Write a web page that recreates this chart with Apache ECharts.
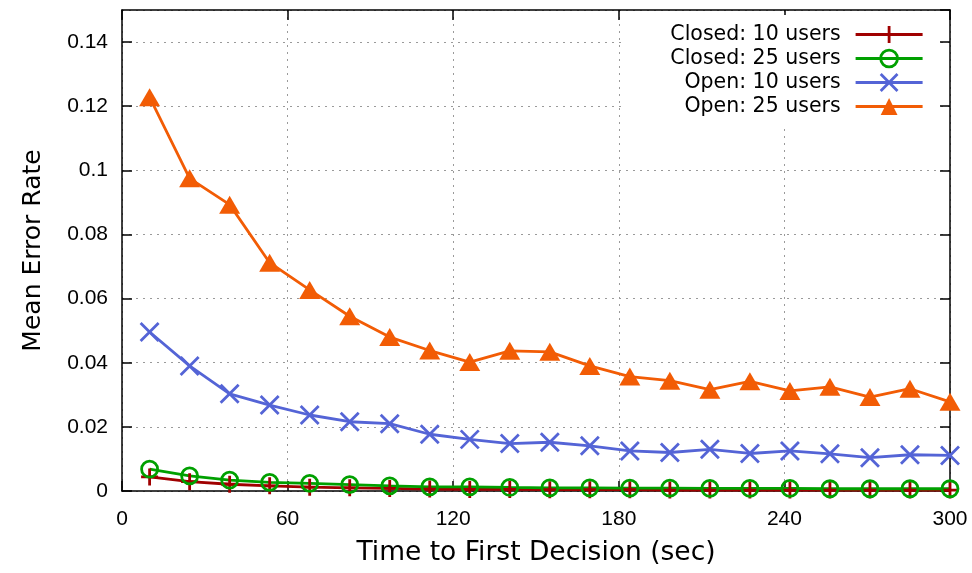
<!DOCTYPE html>
<html>
<head>
<meta charset="utf-8">
<script src="https://cdn.jsdelivr.net/npm/echarts@6/dist/echarts.min.js"></script>
<style>
  html, body { margin: 0; padding: 0; background: #fff; }
  #chart { width: 972px; height: 573px; }
</style>
</head>
<body>
<div id="chart"></div>
<script>
// Time to first decision (sec)
const times = [10, 24.5, 39, 53.5, 68, 82.5, 97, 111.5, 126, 140.5, 155, 169.5, 184, 198.5, 213, 227.5, 242, 256.5, 271, 285.5, 300];

// Mean error rate per scenario
const closed10 = [0.0044, 0.0029, 0.0021, 0.0016, 0.0012, 0.0010, 0.0008, 0.0006, 0.0005, 0.0005, 0.0004, 0.0004, 0.0004, 0.0003, 0.0003, 0.0003, 0.0003, 0.0003, 0.0003, 0.0003, 0.0003];
const closed25 = [0.0068, 0.0047, 0.0034, 0.0027, 0.0024, 0.0020, 0.0016, 0.0013, 0.0013, 0.0011, 0.0010, 0.0010, 0.0009, 0.0009, 0.0008, 0.0008, 0.0008, 0.0007, 0.0007, 0.0007, 0.0007];
const open10   = [0.0496, 0.0390, 0.0303, 0.0268, 0.0237, 0.0216, 0.0210, 0.0177, 0.0161, 0.0148, 0.0152, 0.0141, 0.0125, 0.0120, 0.0130, 0.0117, 0.0125, 0.0116, 0.0104, 0.0113, 0.0111];
const open25   = [0.1228, 0.0975, 0.0893, 0.0712, 0.0627, 0.0545, 0.0480, 0.0438, 0.0402, 0.0437, 0.0434, 0.0390, 0.0357, 0.0344, 0.0316, 0.0342, 0.0312, 0.0325, 0.0293, 0.0319, 0.0278];

const seriesNames = ['Closed: 10 users', 'Closed: 25 users', 'Open: 10 users', 'Open: 25 users'];
const xTicks = { min: 0, max: 300, interval: 60 };
const yTicks = { min: 0, max: 0.15, interval: 0.02 };

const pair = vals => times.map((t, i) => [t, vals[i]]);

const tickFont = { fontFamily: 'Liberation Sans', fontSize: 21, color: '#000' };
const frameLine = { show: true, onZero: false, lineStyle: { color: '#000', width: 1.5 } };
const innerTick = { show: true, inside: true, length: 10, lineStyle: { color: '#000', width: 1.5 } };
const gridDots = { show: true, lineStyle: { color: '#9a9a9a', width: 1, type: [2, 5] } };

function lineSeries(name, vals, color, symbol, size, filled) {
  return {
    name: name,
    type: 'line',
    data: pair(vals),
    showAllSymbol: true,
    symbol: symbol,
    symbolSize: size,
    lineStyle: { color: color, width: 2.8 },
    itemStyle: filled
      ? { color: color, borderWidth: 0 }
      : { color: 'rgba(0,0,0,0)', borderColor: color, borderWidth: 2.8 },
    emphasis: { disabled: true },
    animation: false
  };
}

const chart = echarts.init(document.getElementById('chart'));
chart.setOption({
  backgroundColor: '#fff',
  animation: false,
  grid: { left: 122, right: 22, top: 10, bottom: 82 },
  legend: {
    orient: 'vertical',
    align: 'right',
    right: 32,
    top: 15,
    padding: [9, 16, 8, 46],
    backgroundColor: '#fff',
    itemWidth: 67,
    itemHeight: 21,
    itemGap: 3,
    textStyle: { fontFamily: 'DejaVu Sans', fontSize: 20.5, color: '#000', lineHeight: 21, padding: [0, 10, 0, 0] },
    lineStyle: { width: 2.8 },
    data: [
      { name: seriesNames[0], itemStyle: { borderWidth: 2.8 } },
      { name: seriesNames[1], itemStyle: { borderWidth: 2.8 } },
      { name: seriesNames[2], itemStyle: { borderWidth: 2.8 } },
      { name: seriesNames[3], itemStyle: { borderWidth: 0 } }
    ]
  },
  xAxis: [
    {
      type: 'value', position: 'bottom', ...xTicks,
      name: 'Time to First Decision (sec)', nameLocation: 'middle', nameGap: 49,
      nameTextStyle: { fontFamily: 'DejaVu Sans', fontSize: 26.5, color: '#000' },
      axisLine: frameLine, axisTick: innerTick, splitLine: gridDots,
      axisLabel: { ...tickFont, margin: 18 }
    },
    {
      type: 'value', position: 'top', ...xTicks,
      axisLine: frameLine, axisTick: innerTick, splitLine: { show: false },
      axisLabel: { show: false }
    }
  ],
  yAxis: [
    {
      type: 'value', position: 'left', ...yTicks,
      name: 'Mean Error Rate', nameLocation: 'middle', nameGap: 76,
      nameTextStyle: { fontFamily: 'DejaVu Sans', fontSize: 25, color: '#000' },
      axisLine: frameLine, axisTick: innerTick, splitLine: gridDots,
      axisLabel: { ...tickFont, margin: 14, showMaxLabel: false }
    },
    {
      type: 'value', position: 'right', ...yTicks,
      axisLine: frameLine, axisTick: innerTick, splitLine: { show: false },
      axisLabel: { show: false }
    }
  ],
  series: [
    lineSeries(seriesNames[0], closed10, '#a00000', 'path://M5,0V10M0,5H10', 17, false),
    lineSeries(seriesNames[1], closed25, '#00a000', 'circle', 16, false),
    lineSeries(seriesNames[2], open10, '#5464d6', 'path://M0,0L10,10M10,0L0,10', 18, false),
    lineSeries(seriesNames[3], open25, '#f25c05', 'triangle', [21, 18], true)
  ]
});
</script>
</body>
</html>
